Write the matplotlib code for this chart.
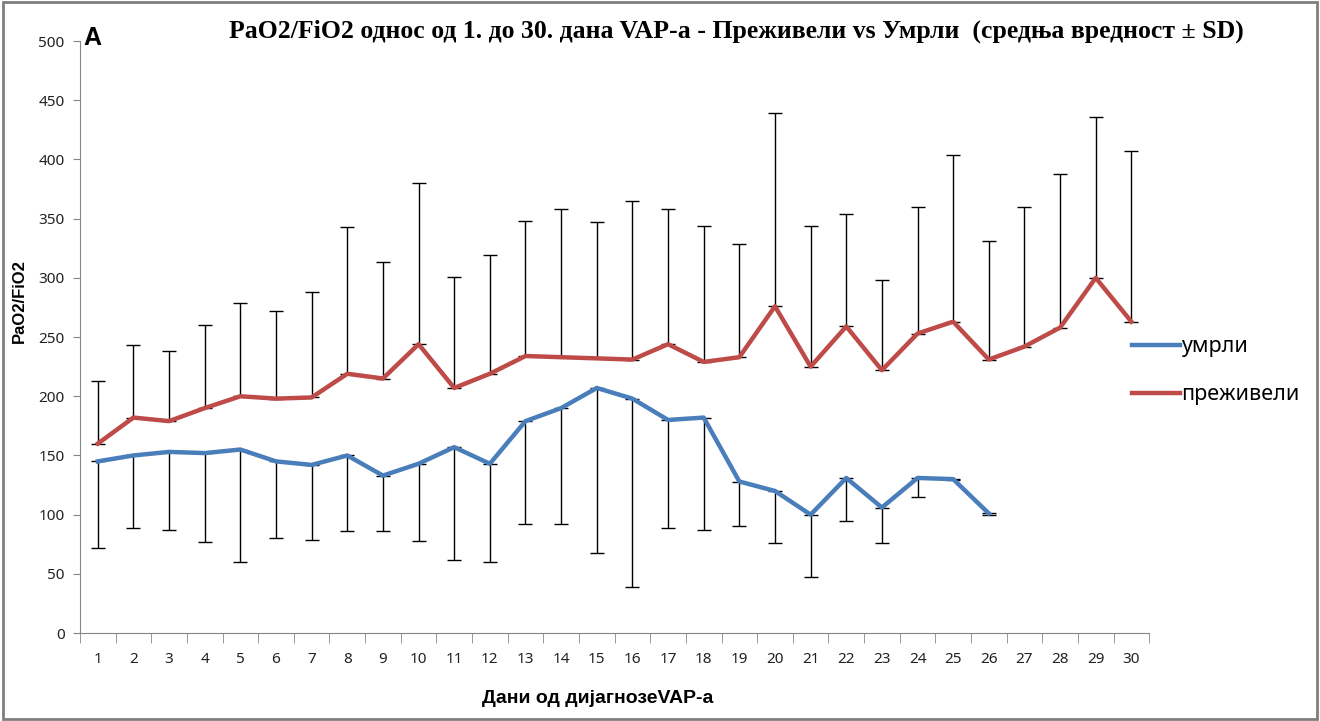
import numpy as np
import matplotlib
matplotlib.use("Agg")
import matplotlib.pyplot as plt
from matplotlib.patches import Rectangle

plt.rcParams['font.family'] = ['Noto Sans', 'DejaVu Sans']

days = list(range(1, 31))

# preziveli (survivors): mean and upper SD bound
surv_mean = [160, 182, 179, 190, 200, 198, 199, 219, 215, 244,
             207, 219, 234, 233, 232, 231, 244, 229, 233, 276,
             225, 259, 222, 253, 263, 231, 242, 258, 300, 263]
surv_top = [213, 243, 238, 260, 279, 272, 288, 343, 313, 380,
            301, 319, 348, 358, 347, 365, 358, 344, 329, 439,
            344, 354, 298, 360, 404, 331, 360, 388, 436, 407]

# umrli (deceased): mean and lower SD bound, days 1-26
dead_days = list(range(1, 27))
dead_mean = [145, 150, 153, 152, 155, 145, 142, 150, 133, 143,
             157, 143, 179, 190, 207, 198, 180, 182, 128, 120,
             100, 131, 106, 131, 130, 101]
dead_bottom = [72, 89, 87, 77, 60, 80, 79, 86, 86, 78,
               62, 60, 92, 92, 68, 39, 89, 87, 90, 76,
               47, 95, 76, 115, 129, 100]

blue = '#4A7EBB'
red = '#BE4B48'

fig = plt.figure(figsize=(13.2, 7.21), dpi=100)
ax = fig.add_axes([0.0606, 0.122, 0.81, 0.821])

surv_err = np.array(surv_top) - np.array(surv_mean)
dead_err = np.array(dead_mean) - np.array(dead_bottom)

ax.errorbar(days, surv_mean, yerr=[np.zeros(len(days)), surv_err],
            fmt='none', ecolor='black', elinewidth=1, capsize=5, capthick=1, zorder=2)
ax.errorbar(dead_days, dead_mean, yerr=[dead_err, np.zeros(len(dead_days))],
            fmt='none', ecolor='black', elinewidth=1, capsize=5, capthick=1, zorder=2)

ax.plot(dead_days, dead_mean, color=blue, lw=3.2, label='умрли', zorder=3,
        solid_joinstyle='round')
ax.plot(days, surv_mean, color=red, lw=3.2, label='преживели', zorder=3,
        solid_joinstyle='round')

ax.set_xlim(0.5, 30.5)
ax.set_ylim(0, 500)
ax.set_yticks(range(0, 501, 50))
ax.set_xticks(days)
ax.set_xticks(np.arange(0.5, 31, 1), minor=True)
ax.tick_params(axis='x', which='major', length=0, pad=14, labelsize=11, labelcolor='#222222')
ax.tick_params(axis='x', which='minor', length=7, color='#868686')
ax.tick_params(axis='y', length=5, color='#868686', labelsize=11, labelcolor='#222222', pad=6)

for s in ['top', 'right']:
    ax.spines[s].set_visible(False)
for s in ['left', 'bottom']:
    ax.spines[s].set_color('#868686')

ax.set_ylabel('PaO2/FiO2', fontsize=12, fontweight='bold', family='Liberation Sans')
ax.yaxis.set_label_coords(-0.05, 0.56)
ax.set_xlabel('Дани од дијагнозеVAP-а', fontsize=14, fontweight='bold', family='Liberation Sans')
ax.xaxis.set_label_coords(0.484, -0.097)

fig.text(0.558, 0.957, 'PaO2/FiO2 однос од 1. до 30. дана VAP-а - Преживели vs Умрли  (средња вредност ± SD)',
         ha='center', va='center', fontsize=18.5, fontweight='bold', family='Liberation Serif')
fig.text(0.063, 0.947, 'A', ha='left', va='center', fontsize=18, fontweight='bold',
         family='Liberation Sans')

ax.legend(loc='center left', bbox_to_anchor=(0.846, 0.486), bbox_transform=fig.transFigure,
          frameon=False, fontsize=15.5, handlelength=2.25, handletextpad=0.05,
          labelspacing=1.25, borderpad=0.2)

fig.patches.append(Rectangle((0.002, 0.003), 0.996, 0.994, transform=fig.transFigure,
                             fill=False, edgecolor='#7f7f7f', lw=2))

fig.savefig('out.png', dpi=100)
